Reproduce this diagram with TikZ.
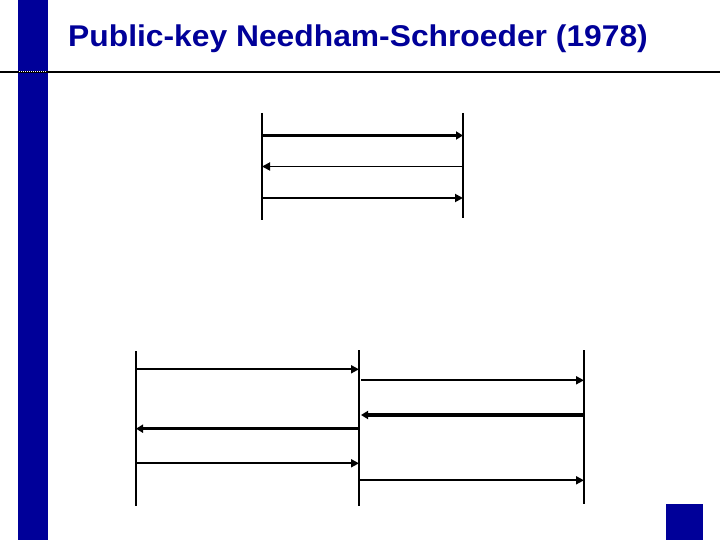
\documentclass[tikz,border=0pt]{standalone}
\usepackage{fontspec}
\setmainfont{Liberation Sans}
\usetikzlibrary{arrows.meta}
\definecolor{navy}{RGB}{0,0,153}
\begin{document}
\begin{tikzpicture}[x=1pt,y=-1pt,
  life/.style={line width=1.4pt,black},
  msg/.style={line width=1.8pt,black,-{Triangle[length=8pt,width=8pt]}},
  thickmsg/.style={msg,line width=3.2pt,-{Triangle[length=7pt,width=8pt]}}]
\useasboundingbox (0,0) rectangle (720,540);
\fill[white] (0,0) rectangle (720,540);
% blue bar and square
\fill[navy] (18,0) rectangle (48,540);
\fill[navy] (666,504) rectangle (703,540);
% title rule
\draw[line width=2pt] (0,72) -- (720,72);
\draw[white,line width=1pt,dash pattern=on 1pt off 1pt] (19,72) -- (47,72);
\node[anchor=base west,text=navy,font=\bfseries\fontsize{30}{34}\selectfont,inner sep=0] (title) at (68,46.5) {\scalebox{1.06}[1]{Public-key Needham-Schroeder (1978)}};
% top diagram lifelines
\coordinate (aT) at (262,113); \coordinate (aB) at (262,220);
\coordinate (bT) at (463,113); \coordinate (bB) at (463,218);
\draw[life] (aT) -- (aB);
\draw[life] (bT) -- (bB);
\coordinate (a1) at (262,135.5); \coordinate (b1) at (463,135.5);
\coordinate (a2) at (262,166.5); \coordinate (b2) at (463,166.5);
\coordinate (a3) at (262,198);   \coordinate (b3) at (463,198);
\draw[thickmsg] (a1) -- (b1);
\draw[msg] (b2) -- (a2);
\draw[msg] (a3) -- (b3);
% bottom diagram lifelines
\coordinate (pT) at (136,351); \coordinate (pB) at (136,506);
\coordinate (qT) at (359,350); \coordinate (qB) at (359,506);
\coordinate (rT) at (584,350); \coordinate (rB) at (584,504);
\draw[life] (pT) -- (pB);
\draw[life] (qT) -- (qB);
\draw[life] (rT) -- (rB);
\coordinate (p1) at (136,369.3); \coordinate (q1) at (359,369.3);
\coordinate (q2) at (361,380.3); \coordinate (r2) at (584,380.3);
\coordinate (q3) at (361,415);   \coordinate (r3) at (584,415);
\coordinate (p4) at (136,428.7); \coordinate (q4) at (359,428.7);
\coordinate (p5) at (136,463.3); \coordinate (q5) at (359,463.3);
\coordinate (q6) at (359,480.3); \coordinate (r6) at (584,480.3);
\draw[msg] (p1) -- (q1);
\draw[msg] (q2) -- (r2);
\draw[thickmsg] (r3) -- (q3);
\draw[thickmsg] (q4) -- (p4);
\draw[msg] (p5) -- (q5);
\draw[msg] (q6) -- (r6);
\end{tikzpicture}
\end{document}
